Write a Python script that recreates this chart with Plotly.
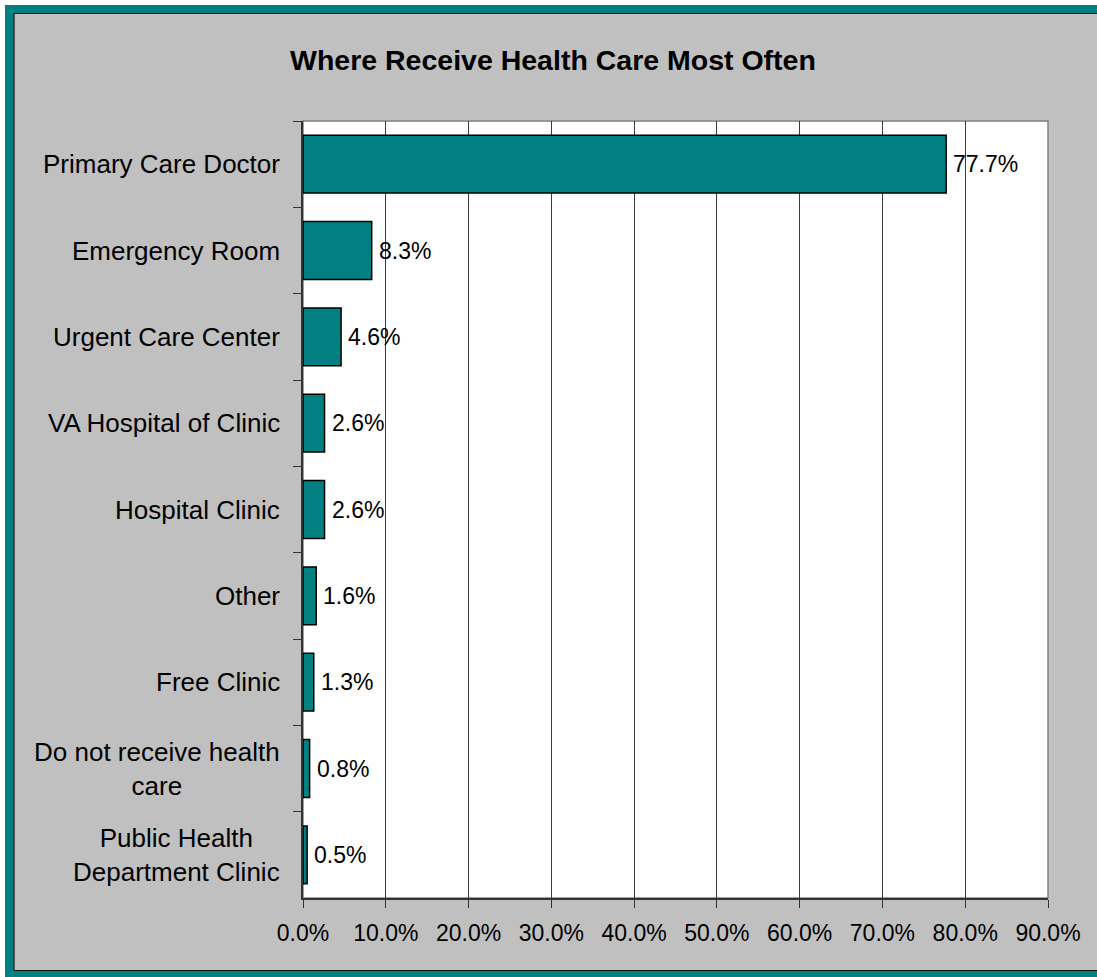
import plotly.graph_objects as go

# Survey results: where respondents receive health care most often
categories = [
    "Primary Care Doctor",
    "Emergency Room",
    "Urgent Care Center",
    "VA Hospital of Clinic",
    "Hospital Clinic",
    "Other",
    "Free Clinic",
    "Do not receive health<br>care",
    "Public Health<br>Department Clinic",
]
percentages = [77.7, 8.3, 4.6, 2.6, 2.6, 1.6, 1.3, 0.8, 0.5]
x_ticks = [0, 10, 20, 30, 40, 50, 60, 70, 80, 90]
x_tick_labels = [f"{v:.1f}%" for v in x_ticks]
title_text = "Where Receive Health Care Most Often"

W, H = 1097, 977
PL, PR, PT, PB = 303, 1048, 121, 898  # plot area in pixels
TEAL = "#008080"
GRAY = "#C0C0C0"
FONT = "Arial, Liberation Sans, sans-serif"


def px_x(p):
    return (p - PL) / (PR - PL)


def px_y(p):
    return (PB - p) / (PB - PT)


fig = go.Figure()
fig.add_trace(go.Bar(
    x=percentages,
    y=categories,
    orientation="h",
    marker=dict(color=TEAL, line=dict(color="black", width=1.5)),
    width=0.67,
    hoverinfo="skip",
))

shapes = [
    # teal frame
    dict(type="rect", xref="paper", yref="paper", layer="below",
         x0=px_x(5), x1=px_x(W + 20), y0=px_y(5), y1=px_y(H + 20),
         fillcolor=TEAL, line=dict(width=0)),
    # gray chart area with thin dark edge
    dict(type="rect", xref="paper", yref="paper", layer="below",
         x0=px_x(14), x1=px_x(W + 20), y0=px_y(13.5), y1=px_y(970.5),
         fillcolor=GRAY, line=dict(color="#111111", width=1.2)),
    # white plot area with gray border
    dict(type="rect", xref="paper", yref="paper", layer="below",
         x0=0, x1=1, y0=0, y1=1,
         fillcolor="white", line=dict(color="#808080", width=1.5)),
]

annotations = [
    dict(text=f"<b>{title_text}</b>", xref="paper", yref="paper",
         x=px_x(553), y=px_y(60), xanchor="center", yanchor="middle",
         showarrow=False, font=dict(family=FONT, size=28.5, color="black")),
]
# category labels, lines centred on each other
for cat in categories:
    annotations.append(dict(
        text=cat, xref="paper", yref="y", x=0, y=cat,
        xanchor="right", yanchor="middle", xshift=-21,
        align="center", showarrow=False,
        font=dict(family=FONT, size=26, color="black"),
    ))
# value labels just past the end of each bar
for cat, val in zip(categories, percentages):
    annotations.append(dict(
        text=f"{val:.1f}%", xref="x", yref="y", x=val, y=cat,
        xanchor="left", yanchor="middle", xshift=5,
        showarrow=False,
        font=dict(family=FONT, size=23, color="black"),
    ))

fig.update_layout(
    width=W, height=H,
    margin=dict(l=PL, r=W - PR, t=PT, b=H - PB, pad=0),
    paper_bgcolor="white",
    plot_bgcolor="white",
    showlegend=False,
    shapes=shapes,
    annotations=annotations,
    bargap=0.33,
    xaxis=dict(
        range=[0, 90],
        tickmode="array", tickvals=x_ticks, ticktext=x_tick_labels,
        ticks="outside", ticklen=8, tickcolor="#333333", tickwidth=1,
        ticklabelstandoff=6,
        showgrid=True, gridcolor="#3a3a3a", gridwidth=1,
        showline=True, linecolor="#333333", linewidth=1.5,
        zeroline=False,
        tickfont=dict(family=FONT, size=23, color="black"),
        fixedrange=True,
    ),
    yaxis=dict(
        categoryorder="array", categoryarray=categories,
        autorange="reversed",
        showticklabels=False,
        ticks="outside", ticklen=8, tickcolor="#333333", tickson="boundaries",
        showgrid=False,
        showline=True, linecolor="#333333", linewidth=1.5,
        zeroline=False,
        fixedrange=True,
    ),
)

fig.write_html("out.html", config={"displayModeBar": False})
